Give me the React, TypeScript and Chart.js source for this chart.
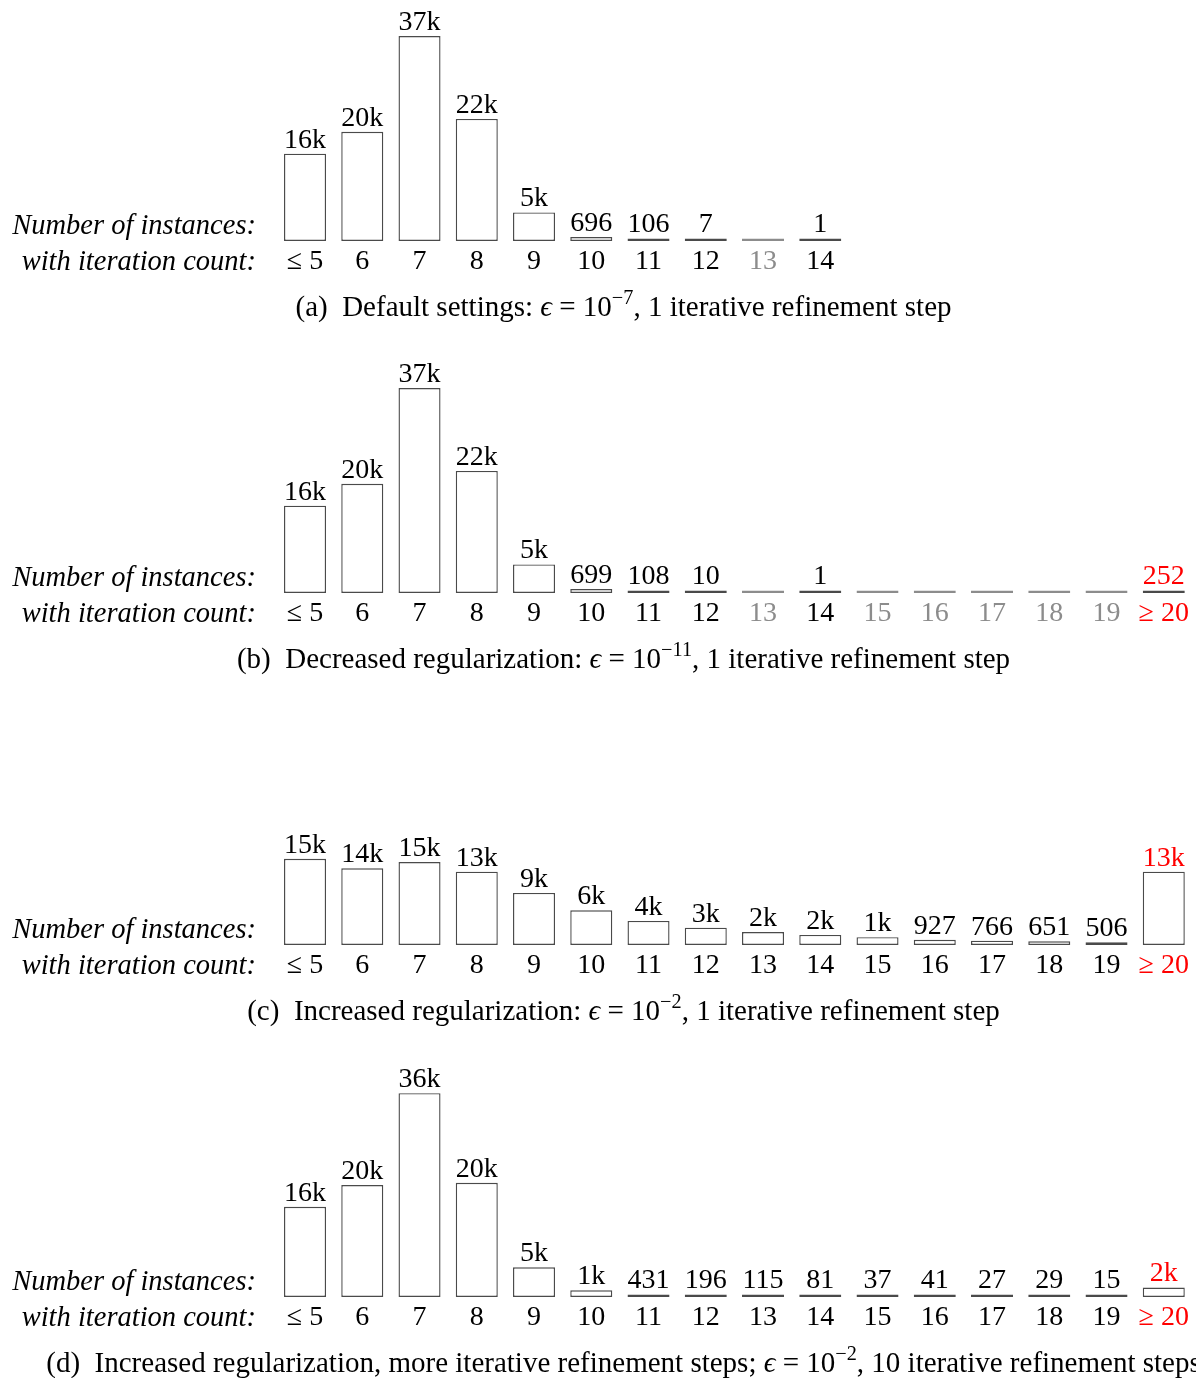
import React, { useEffect, useRef } from "react";
import { Chart, registerables } from "chart.js";

Chart.register(...registerables);

// ---------- data ----------
const categoriesShort = ["≤ 5", "6", "7", "8", "9", "10", "11", "12", "13", "14"];
const categoriesLong = [...categoriesShort, "15", "16", "17", "18", "19", "≥ 20"];

const valuesA = [15600, 19500, 36600, 21800, 5100, 696, 106, 7, 0, 1];
const valuesB = [15600, 19500, 36600, 21800, 5100, 699, 108, 10, 0, 1, 0, 0, 0, 0, 0, 252];
const valuesC = [15400, 13700, 14800, 13100, 9300, 6200, 4300, 3100, 2300, 1800, 1400, 927, 766, 651, 506, 13100];
const valuesD = [16100, 20000, 36400, 20400, 5300, 1200, 431, 196, 115, 81, 37, 41, 27, 29, 15, 1700];

const rowLabelTop = "Number of instances:";
const rowLabelBottom = "with iteration count:";

// ---------- style ----------
const FONT = '"Liberation Serif", "DejaVu Serif", serif';
const NUM_SIZE = 28;
const TEXT_SIZE = 28.5;
const CAPTION_SIZE = 29;
const W = 1196;
const H = 1378;
const CANVAS_H = 300;
const PANEL_STEP = 352;
const LEFT = 276.4;
const BAND = 57.25;
const BASELINE = 241;
const TOP_PAD = 17;
const Y_MAX = 40000;
const RED = "#ff0000";
const GRAY = "#8c8c8c";
const BAR_STROKE = "#4a4a4a";

const fmt = (v: number) => (v >= 1000 ? Math.round(v / 1000) + "k" : String(v));
const isOverflowCat = (c: string) => c.startsWith("≥");

const valueLabels = {
  id: "valueLabels",
  afterDatasetsDraw(chart: any) {
    const ctx = chart.ctx;
    const meta = chart.getDatasetMeta(0);
    const data = chart.data.datasets[0].data as number[];
    const labels = chart.data.labels as string[];
    ctx.save();
    ctx.font = `${NUM_SIZE}px ${FONT}`;
    ctx.textAlign = "center";
    ctx.textBaseline = "alphabetic";
    meta.data.forEach((bar: any, i: number) => {
      const v = data[i];
      if (!v) return;
      const { x, y } = bar.getProps(["x", "y"], true);
      ctx.fillStyle = isOverflowCat(labels[i]) ? RED : "#000";
      ctx.fillText(fmt(v), x, y - 6);
    });
    ctx.restore();
  },
};

function Panel({ categories, values, top }: { categories: string[]; values: number[]; top: number }) {
  const ref = useRef<HTMLCanvasElement | null>(null);
  useEffect(() => {
    if (!ref.current) return;
    const n = categories.length;
    const right = W - (LEFT + n * BAND);
    const chart = new Chart(ref.current, {
      type: "bar",
      data: {
        labels: categories,
        datasets: [
          {
            data: values,
            backgroundColor: "#ffffff",
            borderColor: values.map((v) => (v === 0 ? GRAY : BAR_STROKE)),
            borderWidth: 1.4,
            borderSkipped: false,
            barPercentage: 0.734,
            categoryPercentage: 1,
            minBarLength: 2.6,
          } as any,
        ],
      },
      options: {
        animation: false,
        responsive: false,
        events: [],
        layout: { padding: { left: LEFT, right: right, top: TOP_PAD, bottom: CANVAS_H - BASELINE - 40 } },
        plugins: { legend: { display: false }, tooltip: { enabled: false } },
        scales: {
          x: {
            grid: { display: false, drawTicks: false },
            border: { display: false },
            ticks: {
              autoSkip: false,
              maxRotation: 0,
              padding: 4,
              font: { family: FONT, size: NUM_SIZE },
              color: (ctx: any) => {
                const i = ctx.index;
                if (isOverflowCat(categories[i])) return RED;
                if (values[i] === 0) return GRAY;
                return "#000";
              },
            },
            afterFit: (s: any) => {
              s.height = 40;
            },
          } as any,
          y: { display: false, min: 0, max: Y_MAX },
        },
      },
      plugins: [valueLabels],
    });
    return () => chart.destroy();
  }, [categories, values]);
  return (
    <canvas
      ref={ref}
      width={W}
      height={CANVAS_H}
      style={{ position: "absolute", left: 0, top, width: W, height: CANVAS_H, display: "block" }}
    />
  );
}

const Sup = ({ children }: { children: React.ReactNode }) => (
  <span style={{ fontSize: "0.7em", position: "relative", top: "-0.6em" }}>{children}</span>
);

const captions: React.ReactNode[] = [
  <>(a)&nbsp; Default settings: <i>ϵ</i> = 10<Sup>−7</Sup>, 1 iterative refinement step</>,
  <>(b)&nbsp; Decreased regularization: <i>ϵ</i> = 10<Sup>−11</Sup>, 1 iterative refinement step</>,
  <>(c)&nbsp; Increased regularization: <i>ϵ</i> = 10<Sup>−2</Sup>, 1 iterative refinement step</>,
  <>(d)&nbsp; Increased regularization, more iterative refinement steps; <i>ϵ</i> = 10<Sup>−2</Sup>, 10 iterative refinement steps</>,
];

const panels = [
  { categories: categoriesShort, values: valuesA },
  { categories: categoriesLong, values: valuesB },
  { categories: categoriesLong, values: valuesC },
  { categories: categoriesLong, values: valuesD },
];

const sideLabelStyle = (top: number): React.CSSProperties => ({
  position: "absolute",
  left: 0,
  width: 256,
  top,
  height: 34,
  lineHeight: "34px",
  textAlign: "right",
  fontStyle: "italic",
  fontSize: TEXT_SIZE,
  whiteSpace: "nowrap",
});

export default function App() {
  return (
    <div
      style={{
        position: "absolute",
        left: 0,
        top: 0,
        width: W,
        height: H,
        overflow: "hidden",
        background: "#fff",
        fontFamily: FONT,
        color: "#000",
      }}
    >
      {panels.map((p, k) => {
        const off = k * PANEL_STEP;
        return (
          <React.Fragment key={k}>
            <Panel categories={p.categories} values={p.values} top={off} />
            <div style={sideLabelStyle(off + 225 - 17)}>{rowLabelTop}</div>
            <div style={sideLabelStyle(off + 261 - 17)}>{rowLabelBottom}</div>
            <div
              style={{
                position: "absolute",
                left: 623.5,
                top: off + 306 - 17,
                height: 34,
                lineHeight: "34px",
                transform: "translateX(-50%)",
                fontSize: CAPTION_SIZE,
                whiteSpace: "nowrap",
              }}
            >
              {captions[k]}
            </div>
          </React.Fragment>
        );
      })}
    </div>
  );
}
